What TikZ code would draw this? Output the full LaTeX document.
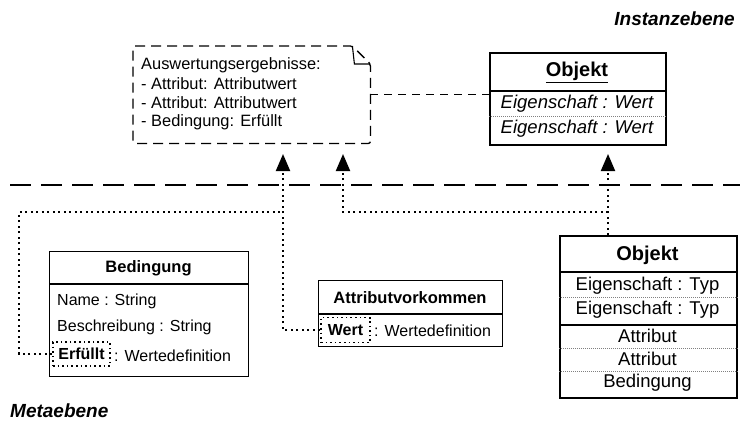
\documentclass[tikz,border=0pt]{standalone}
\usepackage{fontspec}
\setmainfont{Liberation Sans}
\usetikzlibrary{arrows.meta}
\newcommand\setfs[1]{\fontsize{#1pt}{#1pt}\selectfont}

\begin{document}
\begin{tikzpicture}[x=1pt,y=-1pt,
  umlbox/.style={draw, line width=1.3pt, inner sep=0pt, anchor=north west},
  thickbox/.style={umlbox, line width=2.4pt},
  shadebox/.style={inner sep=0pt, anchor=north west},
  rowtext/.style={inner sep=0pt, font=\setfs{16}},
  headtext/.style={inner sep=0pt, font=\setfs{16.5}\bfseries},
  objrow/.style={inner sep=0pt, font=\setfs{18.5}},
  objhead/.style={inner sep=0pt, font=\setfs{20}\bfseries},
  notetext/.style={inner sep=0pt, anchor=west, font=\setfs{16.4}},
  leveltext/.style={inner sep=0pt, font=\setfs{19}\bfseries\itshape},
  dotdiv/.style={draw=gray, line width=0.9pt, dash pattern=on 1pt off 1pt},
  soliddiv/.style={line width=1.3pt},
  hilite/.style={draw, line width=1.6pt, dash pattern=on 1.6pt off 3pt, inner sep=0pt},
  trace/.style={line width=1.9pt, dash pattern=on 1.9pt off 3.6pt},
  tracearrow/.style={trace, -{Triangle[length=17pt,width=14pt]}},
  levelline/.style={line width=2.2pt, dash pattern=on 21pt off 10pt},
  noteline/.style={line width=1.3pt, dash pattern=on 10pt off 6pt},
  linkline/.style={line width=1.3pt, dash pattern=on 8pt off 6pt}
]
\useasboundingbox (0,0) rectangle (740,424);

% level labels
\node[leveltext, anchor=east] (lvinst) at (735,19) {Instanzebene};
\node[leveltext, anchor=west] (lvmeta) at (10,411) {Metaebene};

% level separator
\coordinate (sepl) at (10,185);
\coordinate (sepr) at (740,185);
\draw[levelline] (sepl) -- (sepr);

% ---------- evaluation note ----------
\node[shadebox, minimum width=237pt, minimum height=97pt] (note) at (133,46) {};
\draw[noteline, rounded corners=2pt]
  (note.north west) -- ([xshift=-18pt]note.north east)
  -- ([yshift=-18pt]note.north east) -- (note.south east)
  -- (note.south west) -- cycle;
\draw[line width=1.1pt] ([xshift=-18pt]note.north east)
  -- ([xshift=-16pt,yshift=-18pt]note.north east) -- ([yshift=-18pt]note.north east);
\node[notetext] (n1) at (141,65) {Auswertungsergebnisse:};
\node[notetext] (n2) at (141,84) {- Attribut: Attributwert};
\node[notetext] (n3) at (141,103) {- Attribut: Attributwert};
\node[notetext] (n4) at (141,122) {- Bedingung: Erfüllt};

% ---------- instance object ----------
\node[umlbox, line width=2pt, minimum width=176pt, minimum height=92pt] (inst) at (489,52) {};
\node[objhead] (insthead) at (577,72) {\underline{Objekt}};
\draw[soliddiv] (inst.west |- 0,91) -- (inst.east |- 0,91);
\node[objrow, font=\setfs{18.5}\itshape] (ir1) at (577,104) {Eigenschaft : Wert};
\draw[dotdiv] (inst.west |- 0,116) -- (inst.east |- 0,116);
\node[objrow, font=\setfs{18.5}\itshape] (ir2) at (577,129) {Eigenschaft : Wert};

% note -- instance link
\draw[linkline] (note.east) -- (note.east -| inst.west);

% ---------- Bedingung ----------
\node[umlbox, minimum width=199pt, minimum height=125pt] (bed) at (49,251) {};
\node[headtext] (bedhead) at (148.5,268) {Bedingung};
\draw[soliddiv] (bed.west |- 0,284) -- (bed.east |- 0,284);
\node[rowtext, anchor=west] (b1) at (57,301) {Name : String};
\node[rowtext, anchor=west] (b2) at (57,327) {Beschreibung : String};
\node[hilite, minimum width=57pt, minimum height=24pt] (erf) at (81.5,354)
  {\setfs{16}\bfseries Erfüllt};
\node[rowtext, anchor=west] (b3) at (114,356) {: Wertedefinition};

% ---------- Attributvorkommen ----------
\node[umlbox, minimum width=184pt, minimum height=66pt] (av) at (318,280) {};
\node[headtext] (avhead) at (410,298) {Attributvorkommen};
\draw[soliddiv] (av.west |- 0,314) -- (av.east |- 0,314);
\node[hilite, minimum width=49pt, minimum height=25pt] (wert) at (345.5,330)
  {\setfs{16}\bfseries Wert};
\node[rowtext, anchor=west] (a1) at (374,331) {: Wertedefinition};

% ---------- meta object ----------
\node[thickbox, minimum width=177pt, minimum height=162pt] (meta) at (559,235) {};
\node[objhead] (metahead) at (647.5,255) {Objekt};
\draw[line width=2pt] (meta.west |- 0,272) -- (meta.east |- 0,272);
\node[objrow] (m1) at (647.5,286) {Eigenschaft : Typ};
\draw[dotdiv] (meta.west |- 0,297) -- (meta.east |- 0,297);
\node[objrow] (m2) at (647.5,310) {Eigenschaft : Typ};
\draw[line width=2pt] (meta.west |- 0,325) -- (meta.east |- 0,325);
\node[objrow] (m3) at (647.5,336) {Attribut};
\draw[dotdiv] (meta.west |- 0,348) -- (meta.east |- 0,348);
\node[objrow] (m4) at (647.5,359) {Attribut};
\draw[dotdiv] (meta.west |- 0,371) -- (meta.east |- 0,371);
\node[objrow] (m5) at (647.5,383) {Bedingung};

% ---------- instantiation traces ----------
\coordinate (tipA) at (283,154);
\coordinate (tipB) at (343,154);
\coordinate (tipC) at (608,154);
\coordinate (joinA) at (283,212);
\coordinate (joinC) at (608,212);
\coordinate (bendL) at (19,212);

\draw[tracearrow] (wert.west) -| (tipA);
\draw[trace] (erf.west) -| (bendL) -- (joinA);
\draw[tracearrow] (meta.north -| tipC) -- (tipC);
\draw[tracearrow] (joinC) -| (tipB);
\end{tikzpicture}
\end{document}
